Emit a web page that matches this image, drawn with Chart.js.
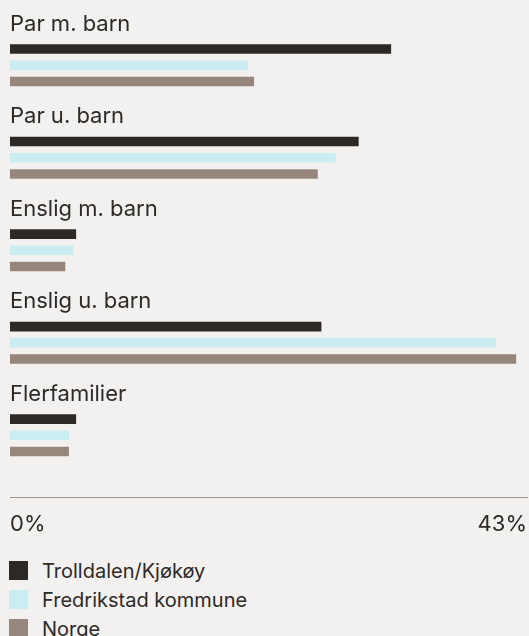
<!DOCTYPE html>
<html>
<head>
<meta charset="utf-8">
<script src="https://cdn.jsdelivr.net/npm/chart.js@4/dist/chart.umd.min.js"></script>
<style>
  html, body { margin: 0; padding: 0; background: #f2f1ef; }
  body { width: 529px; height: 636px; overflow: hidden; font-family: Inter, "Noto Sans", sans-serif; color: #2d2a27; }
  #wrap { position: relative; width: 529px; height: 545px; }
  #legend { margin-top: 11px; }
  .row { height: 29px; display: flex; align-items: center; font-size: 20px; }
  .box { width: 19px; height: 19px; margin-left: 9px; margin-right: 14px; }
</style>
</head>
<body>
<div id="wrap"><canvas id="familyChart"></canvas></div>
<div id="legend"></div>
<script>
// husholdningstyper, andel i prosent
const categories = ['Par m. barn', 'Par u. barn', 'Enslig m. barn', 'Enslig u. barn', 'Flerfamilier'];
const seriesNames = ['Trolldalen/Kjøkøy', 'Fredrikstad kommune', 'Norge'];
const trolldalen = [31.7, 29.0, 5.5, 25.9, 5.5];
const fredrikstad = [19.8, 27.1, 5.3, 40.4, 4.9];
const norge = [20.3, 25.6, 4.6, 42.1, 4.9];
const axisTicks = [0, 43];

const colors = ['#2d2926', '#c9edf1', '#97867b'];
const TEXT = '#2d2a27';

const chart = new Chart(document.getElementById('familyChart'), {
    type: 'bar',
    data: {
        labels: categories,
        datasets: [trolldalen, fredrikstad, norge].map((d, i) => ({
            label: seriesNames[i],
            data: d,
            xAxisID: 'x',
            yAxisID: 'y',
            backgroundColor: colors[i],
            borderWidth: 0,
            categoryPercentage: 0.525,
            barPercentage: 0.59
        }))
    },
    options: {
        indexAxis: 'y',
        responsive: true,
        maintainAspectRatio: false,
        animation: false,
        layout: { padding: { top: 19, left: 10, right: 2, bottom: 7 } },
        plugins: {
            legend: { display: false },
            tooltip: { enabled: false }
        },
        scales: {
            x: {
                min: 0,
                max: axisTicks[axisTicks.length - 1],
                position: 'bottom',
                weight: 1,
                // streker skjules, men tickLength gir avstand til tallene
                grid: { display: false, drawTicks: true, tickLength: 14 },
                border: { display: true, color: '#a39891', width: 1 },
                afterBuildTicks: s => { s.ticks = axisTicks.map(v => ({ value: v })); },
                ticks: {
                    align: 'inner',
                    padding: 0,
                    maxRotation: 0,
                    color: TEXT,
                    font: { family: 'Inter', size: 22 },
                    callback: v => v + '%'
                }
            },
            y: {
                grid: { display: false, drawTicks: false },
                border: { display: false },
                ticks: {
                    mirror: true,
                    padding: 0,
                    labelOffset: -41,
                    color: TEXT,
                    font: { family: 'Inter', size: 22 }
                }
            },
            // tom akse som gir luft mellom siste gruppe og aksestreken
            spacer: {
                type: 'linear',
                axis: 'x',
                position: 'bottom',
                weight: 0,
                grid: { display: false, drawTicks: false },
                border: { display: false },
                ticks: { display: false },
                afterFit: s => { s.height = 16; }
            }
        }
    }
});

// egen legende, en rad per serie
const legendEl = document.getElementById('legend');
chart.data.datasets.forEach(ds => {
    const row = document.createElement('div');
    row.className = 'row';
    const box = document.createElement('span');
    box.className = 'box';
    box.style.background = ds.backgroundColor;
    row.appendChild(box);
    row.appendChild(document.createTextNode(ds.label));
    legendEl.appendChild(row);
});
</script>
</body>
</html>
